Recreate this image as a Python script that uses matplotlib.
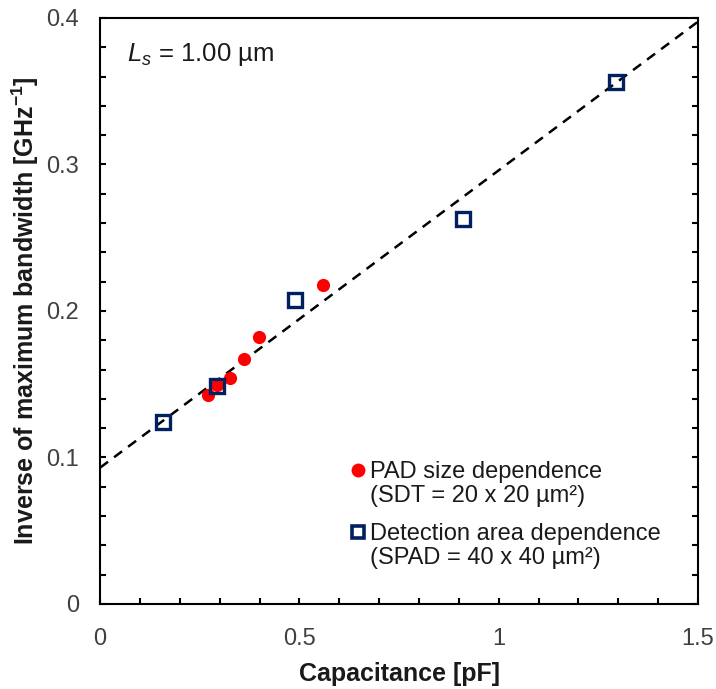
import matplotlib
matplotlib.use('Agg')
import matplotlib.pyplot as plt
from matplotlib.lines import Line2D
from matplotlib.ticker import MultipleLocator
import numpy as np

plt.rcParams['font.family'] = ['Liberation Sans', 'DejaVu Sans']
plt.rcParams['mathtext.fontset'] = 'custom'
plt.rcParams['mathtext.rm'] = 'Liberation Sans'
plt.rcParams['mathtext.it'] = 'Liberation Sans:italic'
plt.rcParams['mathtext.bf'] = 'Liberation Sans:bold'

# PAD size dependence (SDT = 20 x 20 um^2)
pad_cap = [0.272, 0.293, 0.326, 0.362, 0.399, 0.558]
pad_inv_bw = [0.1427, 0.1495, 0.154, 0.1672, 0.182, 0.2177]

# Detection area dependence (SPAD = 40 x 40 um^2)
area_cap = [0.158, 0.293, 0.490, 0.911, 1.293]
area_inv_bw = [0.1245, 0.149, 0.2075, 0.263, 0.356]

# linear fit
fit_slope = 0.203
fit_icpt = 0.093
fit_x = [0, 1.5]

navy = '#002060'
tick_col = '#404040'
text_col = '#1a1a1a'

fig = plt.figure(figsize=(7.16, 6.89), dpi=100)
ax = fig.add_axes([0.1397, 0.1234, 0.8353, 0.8506])

fx = np.array(fit_x)
ax.plot(fx, fit_slope * fx + fit_icpt, color='black', ls=(0, (4, 3)), lw=1.8, zorder=1)

ax.plot(pad_cap, pad_inv_bw, 'o', color='#ff0000', ms=9.5, mec='none', zorder=2)
ax.plot(area_cap, area_inv_bw, 's', mfc='none', mec=navy, mew=2.4, ms=10, zorder=3)

ax.set_xlim(0, 1.5)
ax.set_ylim(0, 0.4)
ax.xaxis.set_major_locator(MultipleLocator(0.5))
ax.xaxis.set_minor_locator(MultipleLocator(0.1))
ax.yaxis.set_major_locator(MultipleLocator(0.1))
ax.yaxis.set_minor_locator(MultipleLocator(0.02))
ax.xaxis.set_major_formatter(plt.FuncFormatter(lambda v, p: '%g' % v))
ax.yaxis.set_major_formatter(plt.FuncFormatter(lambda v, p: '%g' % v))

for s in ax.spines.values():
    s.set_linewidth(1.5)
ax.tick_params(which='both', direction='in', length=4, width=1.5,
               top=False, right=True, labelcolor=tick_col, labelsize=17)
ax.tick_params(axis='x', which='both', pad=17)
ax.tick_params(axis='y', which='both', pad=15)

ax.set_xlabel('Capacitance [pF]', fontsize=18, fontweight='bold', color=text_col, labelpad=9)
ax.set_ylabel(r'Inverse of maximum bandwidth [GHz$^{\mathbf{-1}}$]', fontsize=18,
              fontweight='bold', color=text_col, labelpad=4)

ax.text(0.045, 0.937, r'$L_s$ = 1.00 µm', transform=ax.transAxes, fontsize=18.5,
        va='center', ha='left', color=text_col)

blank = Line2D([], [], ls='none', marker='none')
h1 = Line2D([], [], ls='none', marker='o', color='#ff0000', ms=10, mec='none')
h2 = Line2D([], [], ls='none', marker='s', mfc='none', mec=navy, mew=2.6, ms=8)
leg_kw = dict(frameon=False, fontsize=17, handlelength=0.6, handletextpad=0.2,
              labelspacing=0.08, borderpad=0, labelcolor=text_col, loc='upper left')
leg1 = ax.legend([h1, blank], ['PAD size dependence', '(SDT = 20 x 20 µm²)'],
                 bbox_to_anchor=(0.400, 0.264), **leg_kw)
ax.add_artist(leg1)
ax.legend([h2, blank], ['Detection area dependence', '(SPAD = 40 x 40 µm²)'],
          bbox_to_anchor=(0.400, 0.158), **leg_kw)

fig.savefig('out.png', dpi=100)
